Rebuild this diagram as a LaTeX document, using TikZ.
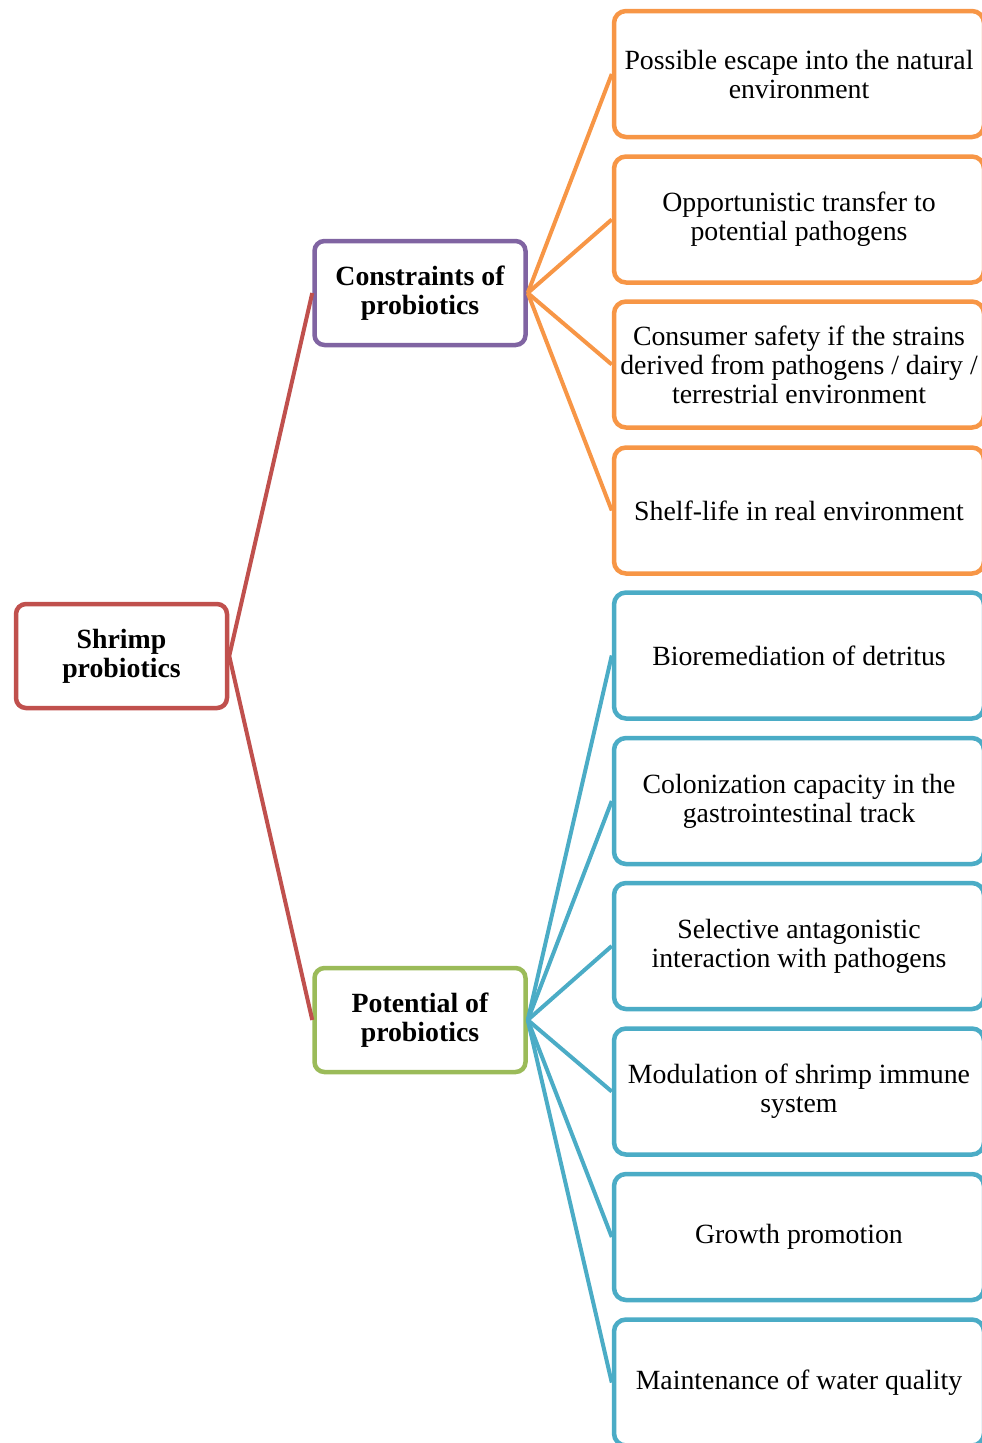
\documentclass[tikz,border=0pt]{standalone}
\usepackage{fontspec}
\setmainfont{Liberation Serif}
\definecolor{cred}{HTML}{C0504D}
\definecolor{cpurple}{HTML}{8064A2}
\definecolor{cgreen}{HTML}{9BBB59}
\definecolor{corange}{HTML}{F79646}
\definecolor{cteal}{HTML}{4BACC6}
\tikzset{
  mainbox/.style={draw, line width=4.5pt, rounded corners=10pt, fill=white,
    minimum width=211pt, minimum height=104pt, align=center, inner sep=0pt,
    font=\fontsize{27.8}{29}\selectfont\bfseries},
  leafbox/.style={draw, line width=4.5pt, rounded corners=12pt, fill=white,
    minimum width=370pt, minimum height=126pt, align=center, inner sep=0pt,
    font=\fontsize{27.8}{29}\selectfont},
  link/.style={line width=4pt}
}
\begin{document}
\begin{tikzpicture}[x=1pt,y=-1pt]
\useasboundingbox (0,0) rectangle (982,1443);
\clip (0,0) rectangle (982,1443);
\node[mainbox, draw=cred] (root) at (121.5,656) {Shrimp\\probiotics};
\node[mainbox, draw=cpurple] (con) at (420,293) {Constraints of\\probiotics};
\node[mainbox, draw=cgreen] (pot) at (420,1020) {Potential of\\probiotics};
\node[leafbox, draw=corange] (c1) at (799,74) {Possible escape into the natural\\environment};
\node[leafbox, draw=corange] (c2) at (799,219.5) {Opportunistic transfer to\\potential pathogens};
\node[leafbox, draw=corange] (c3) at (799,364.5) {Consumer safety if the strains\\derived from pathogens / dairy /\\terrestrial environment};
\node[leafbox, draw=corange] (c4) at (799,510.5) {Shelf-life in real environment};
\node[leafbox, draw=cteal] (p1) at (799,655.5) {Bioremediation of detritus};
\node[leafbox, draw=cteal] (p2) at (799,801) {Colonization capacity in the\\gastrointestinal track};
\node[leafbox, draw=cteal] (p3) at (799,946) {Selective antagonistic\\interaction with pathogens};
\node[leafbox, draw=cteal] (p4) at (799,1091.5) {Modulation of shrimp immune\\system};
\node[leafbox, draw=cteal] (p5) at (799,1237) {Growth promotion};
\node[leafbox, draw=cteal] (p6) at (799,1382.5) {Maintenance of water quality};
\draw[link, draw=cred] (root.east) -- (con.west);
\draw[link, draw=cred] (root.east) -- (pot.west);
\foreach \n in {c1,c2,c3,c4} \draw[link, draw=corange] (con.east) -- (\n.west);
\foreach \n in {p1,p2,p3,p4,p5,p6} \draw[link, draw=cteal] (pot.east) -- (\n.west);
\end{tikzpicture}
\end{document}
